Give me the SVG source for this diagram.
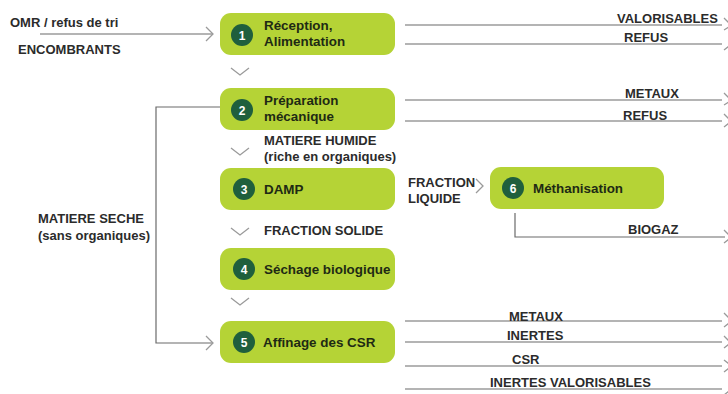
<svg xmlns="http://www.w3.org/2000/svg" width="728" height="394" viewBox="0 0 728 394">
<style>
.box{fill:#b5d336}
.num{fill:#1f5f3d}
.nt{fill:#fff;font:bold 12px "Liberation Sans",Arial,sans-serif;text-anchor:middle}
.bt{fill:#1e2a14;font:bold 13.4px "Liberation Sans",Arial,sans-serif}
.lb{fill:#2b2b2b;font:bold 13px "Liberation Sans",Arial,sans-serif}
.ln{fill:none;stroke:#6b6b6b;stroke-width:1.2}
.ch{fill:none;stroke:#9a9a9a;stroke-width:1.3}
</style>
<rect width="728" height="394" fill="#fff"/>
<g id="connectors">
<path class="ln" d="M40 34H213"/>
<path class="ch" d="M206 27L213 34L206 41"/>
<path class="ln" d="M220 107H156V343H213"/>
<path class="ch" d="M206 336L213 343L206 350"/>
<path class="ch" d="M231 68L240 75L249 68"/>
<path class="ch" d="M231 148L240 155L249 148"/>
<path class="ch" d="M231 228L240 235L249 228"/>
<path class="ch" d="M231 298L240 305L249 298"/>
<path class="ch" d="M476 179L483 186L476 193"/>
<path class="ln" d="M515 213V237H725"/>
<path class="ln" d="M405 25H722M405 44H722M405 100H722M405 121H722"/>
<path class="ln" d="M405 321H722M405 342H722M405 366H722M405 389H722"/>
<path class="ch" d="M724 18L729 23M724 30L729 27M724 50L729 46M724 93L729 98M724 105L729 102M724 114L729 119M724 127L729 123M724 230L729 235M724 243L729 239M724 313L729 318M724 327L729 323M724 336L729 341M724 348L729 344M724 360L729 364M724 372L729 368M724 395L729 391"/>
</g>
<g id="n1">
<rect class="box" x="220" y="13" width="175" height="42" rx="11"/>
<circle class="num" cx="242" cy="35" r="11"/>
<text class="nt" x="242" y="39.5">1</text>
<text class="bt" x="264" y="30">Réception,</text>
<text class="bt" x="264" y="46">Alimentation</text>
</g>
<g id="n2">
<rect class="box" x="220" y="88" width="175" height="42" rx="11"/>
<circle class="num" cx="242" cy="110" r="11"/>
<text class="nt" x="242" y="114.5">2</text>
<text class="bt" x="264" y="105">Préparation</text>
<text class="bt" x="264" y="121">mécanique</text>
</g>
<g id="n3">
<rect class="box" x="220" y="168" width="175" height="42" rx="11"/>
<circle class="num" cx="244" cy="189" r="11"/>
<text class="nt" x="244" y="193.5">3</text>
<text class="bt" x="264" y="194">DAMP</text>
</g>
<g id="n4">
<rect class="box" x="220" y="248" width="175" height="42" rx="11"/>
<circle class="num" cx="244" cy="269" r="11"/>
<text class="nt" x="244" y="273.5">4</text>
<text class="bt" x="264" y="274">Séchage biologique</text>
</g>
<g id="n5">
<rect class="box" x="220" y="321" width="175" height="42" rx="11"/>
<circle class="num" cx="244" cy="342" r="11"/>
<text class="nt" x="244" y="346.5">5</text>
<text class="bt" x="263" y="347">Affinage des CSR</text>
</g>
<g id="n6">
<rect class="box" x="490" y="167" width="174" height="42" rx="11"/>
<circle class="num" cx="513" cy="188" r="11"/>
<text class="nt" x="513" y="192.5">6</text>
<text class="bt" x="533" y="193">Méthanisation</text>
</g>
<g id="labels">
<text class="lb" x="10" y="27">OMR / refus de tri</text>
<text class="lb" x="18" y="54">ENCOMBRANTS</text>
<text class="lb" x="264" y="145">MATIERE HUMIDE</text>
<text class="lb" x="264" y="161">(riche en organiques)</text>
<text class="lb" x="264" y="235">FRACTION SOLIDE</text>
<text class="lb" x="38" y="223">MATIERE SECHE</text>
<text class="lb" x="38" y="240">(sans organiques)</text>
<text class="lb" x="408" y="187">FRACTION</text>
<text class="lb" x="408" y="203">LIQUIDE</text>
<text class="lb" x="617" y="23">VALORISABLES</text>
<text class="lb" x="624" y="42">REFUS</text>
<text class="lb" x="625" y="98">METAUX</text>
<text class="lb" x="623" y="120">REFUS</text>
<text class="lb" x="628" y="234">BIOGAZ</text>
<text class="lb" x="509" y="321">METAUX</text>
<text class="lb" x="507" y="340">INERTES</text>
<text class="lb" x="512" y="364">CSR</text>
<text class="lb" x="490" y="387">INERTES VALORISABLES</text>
</g>
</svg>
